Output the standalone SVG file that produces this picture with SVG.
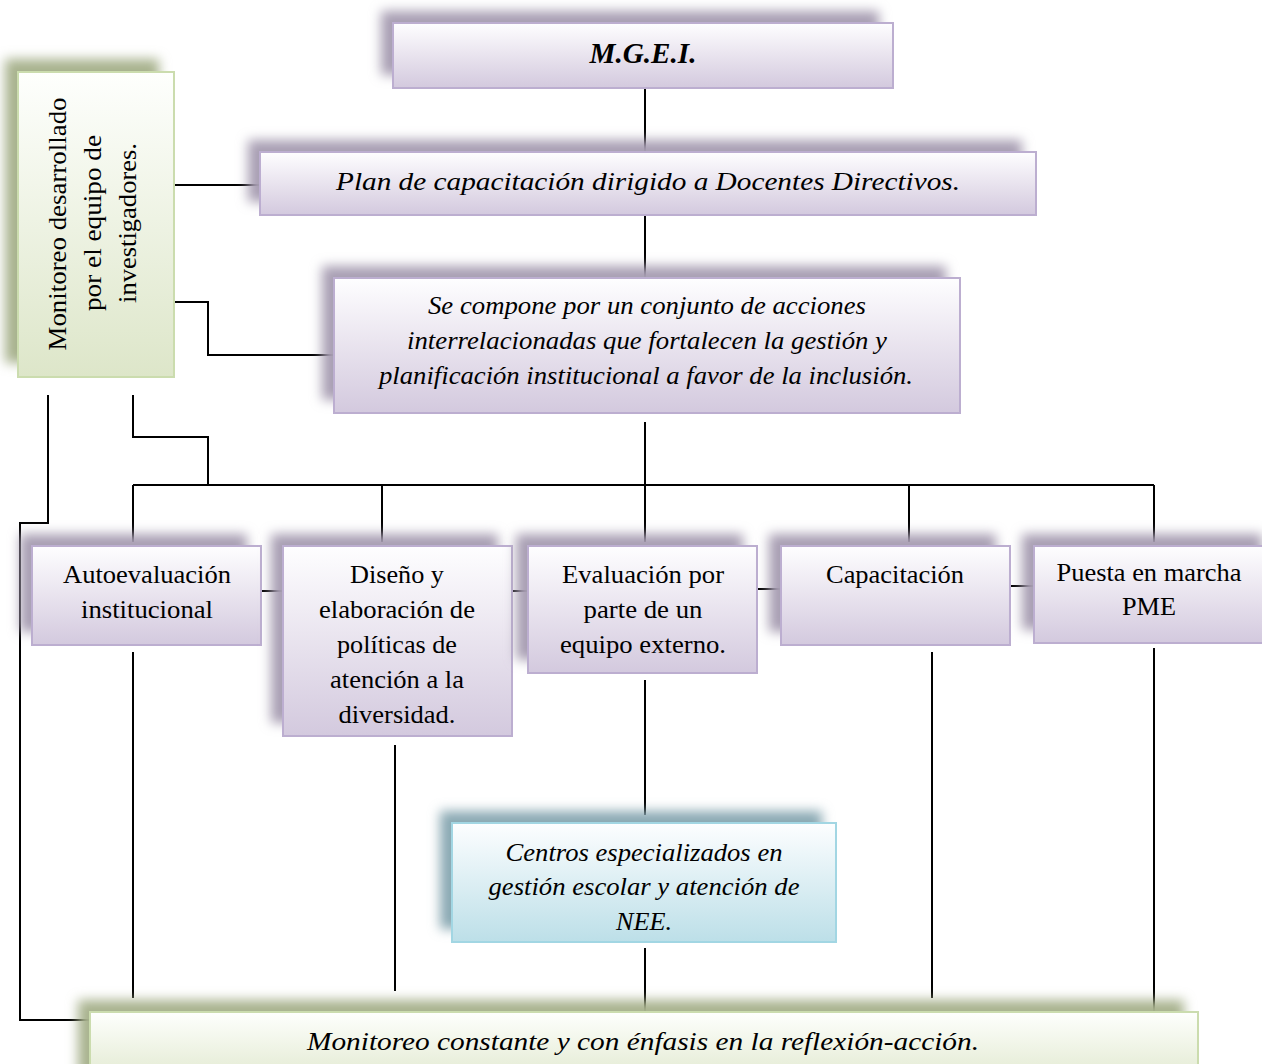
<svg xmlns="http://www.w3.org/2000/svg" width="1262" height="1064" viewBox="0 0 1262 1064">
  <defs>
    <linearGradient id="gPurple" x1="0" y1="0" x2="0" y2="1">
      <stop offset="0" stop-color="#fefeff"/>
      <stop offset="0.45" stop-color="#ebe6f0"/>
      <stop offset="1" stop-color="#d3c9de"/>
    </linearGradient>
    <linearGradient id="gGreen" x1="0" y1="0" x2="0" y2="1">
      <stop offset="0" stop-color="#fefffd"/>
      <stop offset="1" stop-color="#dde6c9"/>
    </linearGradient>
    <linearGradient id="gCyan" x1="0" y1="0" x2="0" y2="1">
      <stop offset="0" stop-color="#fdfeff"/>
      <stop offset="1" stop-color="#bcdfe8"/>
    </linearGradient>
    <filter id="soft" x="-20%" y="-30%" width="140%" height="160%">
      <feGaussianBlur stdDeviation="6"/>
    </filter>
    <style>
      .sp { fill: #a89fb3; filter: url(#soft); }
      .sg { fill: #a8b28e; filter: url(#soft); }
      .sc { fill: #8aa9b3; filter: url(#soft); }
      .bp { fill: url(#gPurple); stroke: #bcaed0; stroke-width: 2; }
      .bg { fill: url(#gGreen); stroke: #cbdcae; stroke-width: 2; }
      .bc { fill: url(#gCyan); stroke: #a2d6e3; stroke-width: 2; }
      .t { font-family: "Liberation Serif", "Times New Roman", Tinos, Times, "Nimbus Roman", serif; font-size: 26px; fill: #000; text-anchor: middle; }
      .i { font-style: italic; }
      .b { font-weight: bold; font-size: 29px; }
      .wire { fill: none; stroke: #000; stroke-width: 2; }
    </style>
  </defs>

  <rect width="1262" height="1064" fill="#ffffff"/>

  <!-- connectors -->
  <g id="connectors" class="wire">
    <path d="M645 88 V152"/>
    <path d="M645 215 V278"/>
    <path d="M174 185 H260"/>
    <path d="M174 302 H208 V355 H334"/>
    <path d="M645 422 V485"/>
    <path d="M133 395 V437 H208 V485"/>
    <path d="M48 395 V523 H20 V1020 H90"/>
    <path d="M133 485 H1154"/>
    <path d="M133 485 V542"/>
    <path d="M382 485 V542"/>
    <path d="M645 485 V542"/>
    <path d="M909 485 V542"/>
    <path d="M1154 485 V542"/>
    <path d="M261 591 H283"/>
    <path d="M512 591 H528"/>
    <path d="M757 589 H781"/>
    <path d="M1010 586 H1034"/>
    <path d="M133 652 V998"/>
    <path d="M395 745 V991"/>
    <path d="M645 680 V815"/>
    <path d="M645 948 V1012"/>
    <path d="M932 652 V998"/>
    <path d="M1154 648 V1012"/>
  </g>

  <!-- top: M.G.E.I. -->
  <g id="node-mgei">
    <rect class="sp" x="381" y="11" width="498" height="64"/>
    <rect class="bp" x="393" y="23" width="500" height="65"/>
    <text class="t i b" x="643" y="63" textLength="107" lengthAdjust="spacingAndGlyphs">M.G.E.I.</text>
  </g>

  <!-- training plan -->
  <g id="node-plan">
    <rect class="sp" x="248" y="140" width="774" height="62"/>
    <rect class="bp" x="260" y="152" width="776" height="63"/>
    <text class="t i" x="648" y="190" textLength="624" lengthAdjust="spacingAndGlyphs">Plan de capacitación dirigido a Docentes Directivos.</text>
  </g>

  <!-- composition description -->
  <g id="node-compone">
    <rect class="sp" x="322" y="266" width="624" height="134"/>
    <rect class="bp" x="334" y="278" width="626" height="135"/>
    <text class="t i" x="647" y="314" textLength="438" lengthAdjust="spacingAndGlyphs">Se compone por un conjunto de acciones</text>
    <text class="t i" x="647" y="349" textLength="480" lengthAdjust="spacingAndGlyphs">interrelacionadas que fortalecen la gestión y</text>
    <text class="t i" x="646" y="384" textLength="534" lengthAdjust="spacingAndGlyphs">planificación institucional a favor de la inclusión.</text>
  </g>

  <!-- left vertical monitoring box -->
  <g id="node-monitoreo-equipo">
    <rect class="sg" x="5" y="59" width="154" height="304"/>
    <rect class="bg" x="18" y="72" width="156" height="305"/>
    <text class="t" transform="translate(66 224) rotate(-90)" x="0" y="0" textLength="253" lengthAdjust="spacingAndGlyphs">Monitoreo desarrollado</text>
    <text class="t" transform="translate(101 223) rotate(-90)" x="0" y="0" textLength="176" lengthAdjust="spacingAndGlyphs">por el equipo de</text>
    <text class="t" transform="translate(136 223) rotate(-90)" x="0" y="0" textLength="160" lengthAdjust="spacingAndGlyphs">investigadores.</text>
  </g>

  <!-- row of actions -->
  <g id="node-autoevaluacion">
    <rect class="sp" x="20" y="534" width="227" height="98"/>
    <rect class="bp" x="32" y="546" width="229" height="99"/>
    <text class="t" x="147" y="583" textLength="168" lengthAdjust="spacingAndGlyphs">Autoevaluación</text>
    <text class="t" x="147" y="618" textLength="132" lengthAdjust="spacingAndGlyphs">institucional</text>
  </g>

  <g id="node-diseno">
    <rect class="sp" x="271" y="534" width="227" height="189"/>
    <rect class="bp" x="283" y="546" width="229" height="190"/>
    <text class="t" x="397" y="583" textLength="94" lengthAdjust="spacingAndGlyphs">Diseño y</text>
    <text class="t" x="397" y="618" textLength="156" lengthAdjust="spacingAndGlyphs">elaboración de</text>
    <text class="t" x="397" y="653" textLength="120" lengthAdjust="spacingAndGlyphs">políticas de</text>
    <text class="t" x="397" y="688" textLength="134" lengthAdjust="spacingAndGlyphs">atención a la</text>
    <text class="t" x="397" y="723" textLength="117" lengthAdjust="spacingAndGlyphs">diversidad.</text>
  </g>

  <g id="node-evaluacion">
    <rect class="sp" x="516" y="534" width="227" height="126"/>
    <rect class="bp" x="528" y="546" width="229" height="127"/>
    <text class="t" x="643" y="583" textLength="162" lengthAdjust="spacingAndGlyphs">Evaluación por</text>
    <text class="t" x="643" y="618" textLength="119" lengthAdjust="spacingAndGlyphs">parte de un</text>
    <text class="t" x="643" y="653" textLength="166" lengthAdjust="spacingAndGlyphs">equipo externo.</text>
  </g>

  <g id="node-capacitacion">
    <rect class="sp" x="769" y="534" width="227" height="98"/>
    <rect class="bp" x="781" y="546" width="229" height="99"/>
    <text class="t" x="895" y="583" textLength="138" lengthAdjust="spacingAndGlyphs">Capacitación</text>
  </g>

  <g id="node-pme">
    <rect class="sp" x="1022" y="534" width="240" height="96"/>
    <rect class="bp" x="1034" y="546" width="240" height="97"/>
    <text class="t" x="1149" y="581" textLength="185" lengthAdjust="spacingAndGlyphs">Puesta en marcha</text>
    <text class="t" x="1149" y="615" textLength="54" lengthAdjust="spacingAndGlyphs">PME</text>
  </g>

  <!-- specialised centres -->
  <g id="node-centros">
    <rect class="sc" x="440" y="811" width="382" height="118"/>
    <rect class="bc" x="452" y="823" width="384" height="119"/>
    <text class="t i" x="644" y="861" textLength="277" lengthAdjust="spacingAndGlyphs">Centros especializados en</text>
    <text class="t i" x="644" y="895" textLength="311" lengthAdjust="spacingAndGlyphs">gestión escolar y atención de</text>
    <text class="t i" x="644" y="930" textLength="56" lengthAdjust="spacingAndGlyphs">NEE.</text>
  </g>

  <!-- constant monitoring -->
  <g id="node-monitoreo-constante">
    <rect class="sg" x="78" y="1000" width="1106" height="80"/>
    <rect class="bg" x="90" y="1012" width="1108" height="80"/>
    <text class="t i" x="643" y="1050" textLength="672" lengthAdjust="spacingAndGlyphs">Monitoreo constante y con énfasis en la reflexión-acción.</text>
  </g>
</svg>
